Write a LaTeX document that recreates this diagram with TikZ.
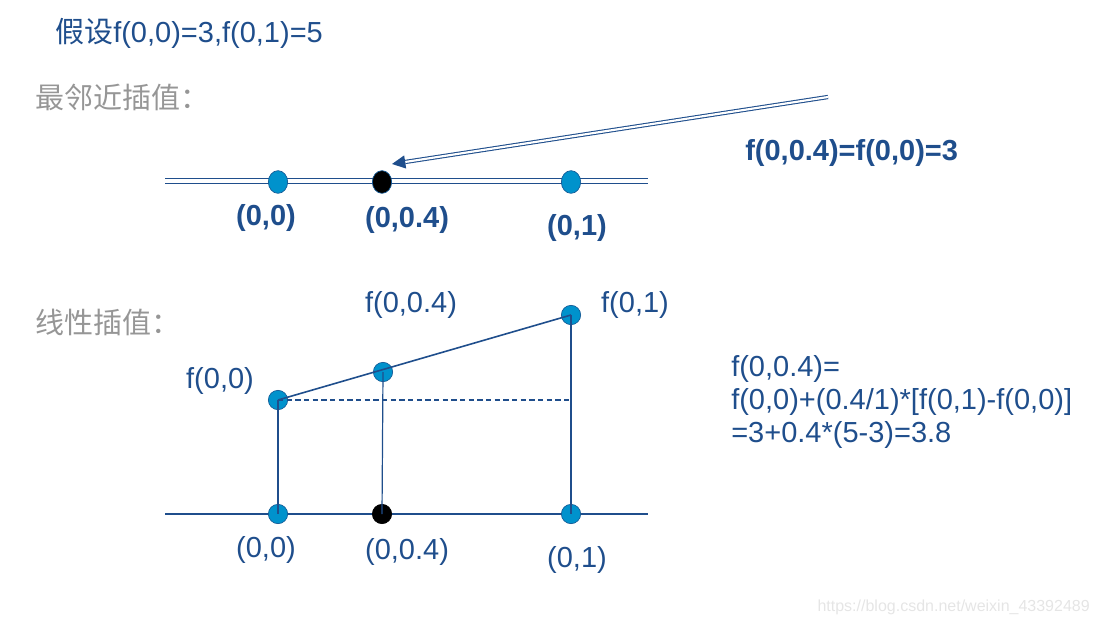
\documentclass[tikz,border=0pt]{standalone}
\usepackage{fontspec}
\setmainfont{Liberation Sans}
\newfontfamily\cjk{Noto Sans CJK SC}
\usepackage{tikz}
\usetikzlibrary{calc,shapes.geometric}

\definecolor{inkblue}{RGB}{31,78,140}
\definecolor{dotcyan}{RGB}{0,146,204}
\definecolor{dotedge}{RGB}{20,90,150}
\definecolor{headgray}{RGB}{150,150,150}

\tikzset{
  txt/.style={text=inkblue, inner sep=0pt, font=\fontsize{21.75}{25}\selectfont},
  bold/.style={txt, font=\fontsize{21.75}{25}\selectfont\bfseries},
  head/.style={text=headgray, inner sep=0pt, anchor=west, font=\fontsize{21.75}{25}\selectfont\cjk},
  dot/.style={circle, fill=dotcyan, draw=dotedge, line width=0.5pt, minimum size=14.5pt, inner sep=0pt},
  tall/.style={dot, ellipse, minimum width=14.5pt, minimum height=17pt},
  knot/.style={dot, fill=black, draw=black}
}

\begin{document}
\begin{tikzpicture}[x=0.75pt, y=-0.75pt]

% Frame
\useasboundingbox (0,0) rectangle (1098,627);

% Assumption
\node[txt, anchor=west] (given) at (55,33) {{\cjk 假设}f(0,0)=3,f(0,1)=5};

% Nearest neighbour
\node[head] (nearest) at (35,97) {最邻近插值：};

\draw[inkblue, line width=0.8pt, double, double distance=2.4pt] (165,181) -- (648,181);

\node[tall] (n0) at (278,182) {};
\node[tall, fill=black, draw=dotedge] (nq) at (382,182) {};
\node[tall] (n1) at (571,182) {};

\node[bold] (n0lab) at (266,218) {(0,0)};
\node[bold] (nqlab) at (407,220) {(0,0.4)};
\node[bold] (n1lab) at (577,228) {(0,1)};

\node[bold, anchor=west] (nres) at (745,153) {f(0,0.4)=f(0,0)=3};

% Pointer to the sample
\coordinate (tail) at (828,97);
\coordinate (tip) at (392,164);
\coordinate (neck) at ($(tip)!10pt!(tail)$);
\draw[inkblue, line width=0.8pt, double, double distance=1.6pt] (tail) -- (neck);
\fill[inkblue] (tip) -- ($(neck)!5pt!90:(tip)$) -- ($(neck)!5pt!-90:(tip)$) -- cycle;

% Linear
\node[head] (linear) at (35,322) {线性插值：};

\draw[inkblue, line width=1.5pt] (165,514) -- (648,514);

\node[dot] (b0) at (278,514) {};
\node[knot] (bq) at (382,514) {};
\node[dot] (b1) at (571,514) {};

\node[dot] (v0) at (278,400) {};
\node[dot] (vq) at (383,372) {};
\node[dot] (v1) at (571,315) {};

% Projections and slope
\draw[inkblue, line width=0.9pt] (v0.center) -- (b0.center);
\draw[inkblue, line width=0.9pt] (vq.center) -- (bq.center);
\draw[inkblue, line width=0.9pt] (v1.center) -- (b1.center);
\draw[inkblue, line width=1.2pt] (v0.center) -- (v1.center);
\coordinate (lvl) at (571,400);
\draw[inkblue, line width=0.9pt, dash pattern=on 4pt off 2.5pt] (v0.center) -- (lvl);

\node[txt] (v0lab) at (220,381) {f(0,0)};
\node[txt] (vqlab) at (411,305) {f(0,0.4)};
\node[txt] (v1lab) at (635,305) {f(0,1)};

\node[txt] (b0lab) at (266,550) {(0,0)};
\node[txt] (bqlab) at (407,552) {(0,0.4)};
\node[txt] (b1lab) at (577,560) {(0,1)};

% Formula
\node[txt, anchor=north west, align=left, font=\fontsize{21.75}{24.75}\selectfont] (calc) at (731,355)
  {f(0,0.4)=\\f(0,0)+(0.4/1)*[f(0,1)-f(0,0)]\\=3+0.4*(5-3)=3.8};

% Watermark
\node[text=black!10, inner sep=0pt, anchor=east, font=\fontsize{12}{14}\selectfont] (mark) at (1090,607)
  {https://blog.csdn.net/weixin\_43392489};

\end{tikzpicture}
\end{document}
